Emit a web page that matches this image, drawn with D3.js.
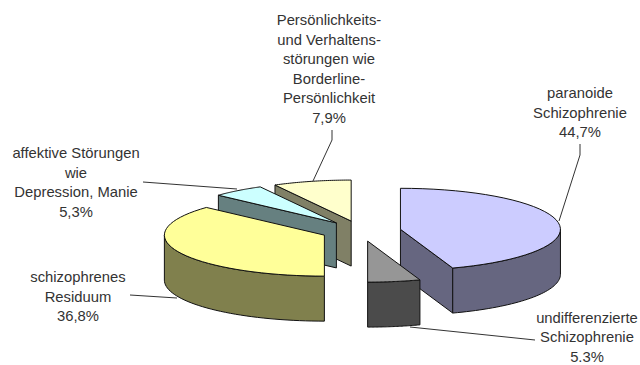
<!DOCTYPE html>
<html>
<head>
<meta charset="utf-8">
<script src="https://cdn.jsdelivr.net/npm/d3@7"></script>
<style>
  html, body { margin: 0; padding: 0; background: #fff; }
  text { font-family: "Liberation Sans", Arial, sans-serif; font-size: 14.8px; fill: #333; }
</style>
</head>
<body>
<div id="chart"></div>
<script>
// values, in drawing order clockwise from the back
const categories = [
  'paranoide Schizophrenie',
  'undifferenzierte Schizophrenie',
  'schizophrenes Residuum',
  'affektive Störungen wie Depression, Manie',
  'Persönlichkeits- und Verhaltensstörungen wie Borderline-Persönlichkeit'
];
const values = [44.7, 5.3, 36.8, 5.3, 7.9];
const valueLabels = ['44,7%', '5.3%', '36,8%', '5,3%', '7,9%'];

const topColors = ['#ccccff', '#969696', '#ffff99', '#ccffff', '#ffffcc'];
const wallColors = ['#666680', '#4b4b4b', '#80804d', '#668080', '#808066'];

// label lines as they break in the picture
const labelLines = [
  ['paranoide', 'Schizophrenie', valueLabels[0]],
  ['undifferenzierte', 'Schizophrenie', valueLabels[1]],
  ['schizophrenes', 'Residuum', valueLabels[2]],
  ['affektive Störungen', 'wie', 'Depression, Manie', valueLabels[3]],
  ['Persönlichkeits-', 'und Verhaltens-', 'störungen wie', 'Borderline-', 'Persönlichkeit', valueLabels[4]]
];
const labelX = [580, 587, 78, 76, 329];
const labelY = [98, 322.5, 282, 158, 25];
const leaders = [
  [[580, 144], [580, 155], [559, 221]],
  [[410, 327], [535, 340]],
  [[130, 295], [177, 298]],
  [[143, 182], [237, 189]],
  [[332, 130], [332, 140], [313, 181]]
];

const width = 640, height = 365;
const cx = 361, cy = 231;      // centre of the unexploded pie
const rx = 160, ry = 41;       // ellipse of the top face
const depth = 45;
const explode = 0.25;

const svg = d3.select('#chart').append('svg')
  .attr('width', width)
  .attr('height', height)
  .style('display', 'block');

const pie = d3.pie().sort(null).value(d => d)(values);

// flat pie angle -> screen offset from the slice centre
const px = a => rx * Math.sin(a);
const py = a => -ry * Math.cos(a);

const arcPoints = (a0, a1) => d3.range(0, 41).map(i => a0 + (a1 - a0) * i / 40);
const line = d3.line();

const slices = pie.map((d, i) => {
  const mid = (d.startAngle + d.endAngle) / 2;
  return {
    ...d, i,
    x: cx + explode * px(mid),
    y: cy + explode * py(mid)
  };
}).sort((a, b) => d3.ascending(a.y, b.y));

const g = svg.selectAll('g.slice').data(slices).join('g')
  .attr('class', 'slice')
  .attr('transform', d => `translate(${d.x},${d.y})`)
  .attr('stroke', '#111')
  .attr('stroke-width', 1)
  .attr('stroke-linejoin', 'round');

g.each(function (d) {
  const sel = d3.select(this);
  const wall = wallColors[d.i];
  const a0 = d.startAngle, a1 = d.endAngle;

  // radial side walls, only when they turn towards the viewer
  [[a0, Math.sin(a0) < -1e-6], [a1, Math.sin(a1) > 1e-6]].forEach(([a, show]) => {
    if (!show) return;
    sel.append('path').attr('fill', wall).attr('d', line([
      [0, 0], [px(a), py(a)], [px(a), py(a) + depth], [0, depth]
    ]) + 'Z');
  });

  // outer wall, the part of the rim on the front half
  const f0 = Math.max(a0, Math.PI / 2), f1 = Math.min(a1, 3 * Math.PI / 2);
  if (f1 > f0) {
    const rim = arcPoints(f0, f1).map(a => [px(a), py(a)]);
    const rimLow = rim.map(p => [p[0], p[1] + depth]).reverse();
    sel.append('path').attr('fill', wall).attr('d', line(rim.concat(rimLow)) + 'Z');
  }

  // top face
  const top = [[0, 0]].concat(arcPoints(a0, a1).map(a => [px(a), py(a)]));
  sel.append('path').attr('fill', topColors[d.i]).attr('d', line(top) + 'Z');
});

svg.selectAll('path.leader').data(leaders).join('path')
  .attr('class', 'leader')
  .attr('fill', 'none')
  .attr('stroke', '#333')
  .attr('stroke-width', 1)
  .attr('d', d => line(d));

const labels = svg.selectAll('text.label').data(labelLines).join('text')
  .attr('class', 'label')
  .attr('text-anchor', 'middle')
  .attr('y', (d, i) => labelY[i]);

labels.selectAll('tspan').data((d, i) => d.map(t => ({ t, x: labelX[i] }))).join('tspan')
  .attr('x', d => d.x)
  .attr('dy', (d, j) => j ? 19.6 : 0)
  .text(d => d.t);
</script>
</body>
</html>
